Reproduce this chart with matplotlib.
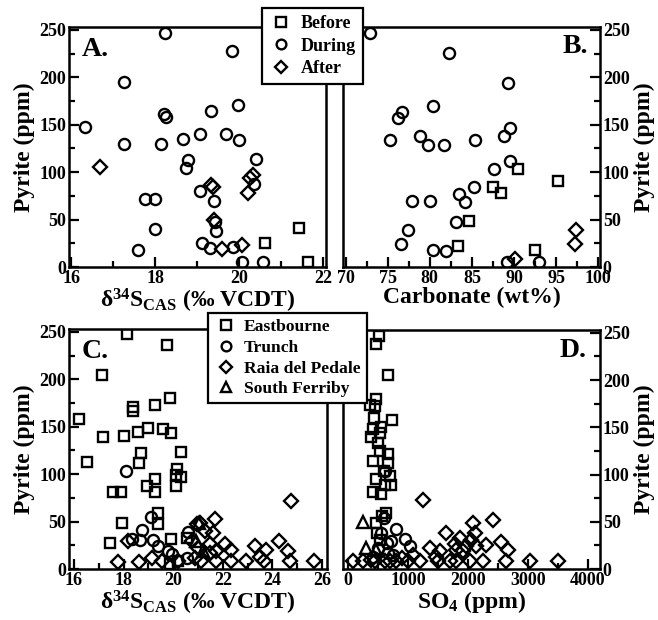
import matplotlib
matplotlib.use("Agg")
import matplotlib.pyplot as plt
from matplotlib.lines import Line2D
from matplotlib.ticker import MultipleLocator

# Panel A: d34S (CAS) vs pyrite, by interval
a_before_x = [20.61, 21.42, 21.64]
a_before_y = [25, 41, 5]
a_during_x = [16.32, 17.25, 17.26, 18.24, 18.13, 18.21, 18.25, 18.66, 18.79, 18.74,
              19.08, 19.34, 19.68, 19.84, 19.97, 20.0, 20.40, 20.35, 19.08, 19.41,
              17.76, 18.0, 18.0, 17.6, 19.11, 19.30, 19.45, 19.42, 19.86, 20.08, 20.58]
a_during_y = [148, 195, 130, 247, 130, 161, 158, 135, 113, 104,
              140, 164, 140, 228, 171, 134, 114, 88, 80, 70,
              72, 72, 40, 18, 25, 20, 38, 47, 21, 5, 5]
a_after_x = [16.70, 19.34, 19.38, 19.41, 19.6, 20.08, 20.27, 20.33, 20.21]
a_after_y = [105, 86, 84, 50, 19, 23, 94, 97, 78]

# Panel B: carbonate vs pyrite, by interval
b_before_x = [90.5, 87.5, 88.5, 84.6, 83.4, 95.2, 92.5]
b_before_y = [103, 84, 78, 49, 22, 91, 18]
b_during_x = [72.9, 82.3, 89.3, 80.4, 76.7, 76.2, 75.3, 78.8, 79.8, 81.7,
              85.4, 88.8, 89.5, 89.5, 87.6, 85.2, 83.5, 84.2, 77.9, 80.0,
              77.4, 76.6, 83.1, 80.4, 81.9, 89.2, 93.0]
b_during_y = [247, 226, 194, 170, 163, 157, 134, 138, 129, 129,
              134, 138, 147, 112, 103, 84, 77, 69, 70, 70,
              39, 24, 47, 18, 17, 5, 5]
b_after_x = [90.1, 97.4, 97.2]
b_after_y = [8, 39, 24]

# Panel C: d34S (CAS) vs pyrite, by section
c_east_x = [18.13, 19.77, 17.15, 16.22, 16.54, 17.16, 18.02, 18.37, 18.37, 18.59,
            18.99, 19.26, 19.57, 19.89, 19.93, 18.70, 18.63, 20.33, 20.17, 20.13,
            20.33, 20.13, 18.93, 19.26, 19.26, 17.59, 17.88, 17.92, 17.46, 19.37,
            19.40, 19.93, 20.54, 19.87, 20.2]
c_east_y = [248, 236, 204, 158, 113, 139, 140, 171, 167, 144,
            149, 173, 148, 180, 143, 122, 112, 123, 105, 99,
            97, 88, 88, 95, 81, 81, 81, 49, 27, 59,
            47, 32, 33, 5, 8]
c_trunch_x = [18.10, 19.10, 18.76, 18.66, 18.33, 19.20, 19.40, 20.60, 19.96, 20.54, 19.80]
c_trunch_y = [103, 55, 41, 31, 32, 31, 24, 39, 16, 12, 19]
c_raia_x = [17.79, 18.19, 18.62, 19.13, 19.53, 20.94, 20.74, 20.87, 20.2, 24.75,
            21.67, 21.6, 21.27, 21.07, 22.07, 22.34, 21.47, 21.74, 23.28, 23.75,
            24.28, 24.62, 24.69, 25.69, 23.48, 22.95, 22.34, 21.74, 21.14, 23.68,
            21.47, 21.0]
c_raia_y = [7, 29, 7, 12, 8, 47, 29, 12, 8, 72,
            53, 38, 40, 49, 26, 20, 26, 19, 24, 20,
            29, 19, 8, 8, 13, 8, 8, 8, 8, 8,
            17, 22]
c_ferriby_x = [21.05, 21.2, 20.9]
c_ferriby_y = [49, 19, 30]

# Panel D: SO4 vs pyrite, by section
d_east_x = [517, 461, 667, 472, 444, 361, 739, 556, 417, 389,
            528, 667, 528, 417, 667, 472, 722, 611, 417, 556,
            639, 572, 461, 483, 528, 694, 600, 500, 430]
d_east_y = [247, 238, 205, 180, 173, 174, 158, 150, 148, 140,
            144, 122, 125, 114, 112, 95, 89, 89, 82, 79,
            59, 56, 49, 38, 31, 98, 104, 133, 160]
d_trunch_x = [611, 594, 806, 722, 944, 1028, 556, 667, 500, 417, 750, 650]
d_trunch_y = [104, 54, 42, 30, 32, 24, 38, 17, 22, 13, 15, 28]
d_raia_x = [1250, 1639, 2083, 2417, 1861, 1806, 2139, 2306, 2556, 2667,
            2639, 3039, 3500, 2250, 2028, 1806, 1500, 1194, 1000, 806,
            1361, 1472, 83, 250, 444, 611, 1972, 2056, 2111, 1778,
            700, 900, 1694, 1917, 1083, 389, 1528]
d_raia_y = [73, 38, 49, 52, 33, 20, 24, 25, 29, 20,
            8, 8, 8, 8, 8, 8, 8, 8, 8, 8,
            22, 13, 8, 8, 8, 8, 24, 31, 38, 26,
            8, 12, 8, 19, 15, 10, 19]
d_ferriby_x = [250, 294, 472]
d_ferriby_y = [50, 22, 20]

plt.rcParams["font.family"] = "Liberation Serif"
plt.rcParams["font.weight"] = "bold"
plt.rcParams["axes.labelweight"] = "bold"
plt.rcParams["mathtext.fontset"] = "custom"
plt.rcParams["mathtext.rm"] = "Liberation Serif:bold"
plt.rcParams["mathtext.it"] = "Liberation Serif:bold"
plt.rcParams["mathtext.bf"] = "Liberation Serif:bold"
plt.rcParams["mathtext.default"] = "rm"

W, H = 658, 620
fig = plt.figure(figsize=(W / 100, H / 100), dpi=100)
axA = fig.add_axes([69 / W, 1 - 267 / H, 257 / W, 240 / H])
axB = fig.add_axes([343 / W, 1 - 267 / H, 257 / W, 240 / H])
axC = fig.add_axes([69 / W, 1 - 569 / H, 258 / W, 240 / H])
axD = fig.add_axes([343 / W, 1 - 569 / H, 257 / W, 239 / H])

mk = dict(linestyle="none", mfc="none", mec="black", mew=1.7)
sq = dict(marker="s", ms=7.5, **mk)
ci = dict(marker="o", ms=8, **mk)
di = dict(marker="D", ms=7.5, **mk)
tr = dict(marker="^", ms=8, **mk)

axA.plot(a_before_x, a_before_y, **sq)
axA.plot(a_during_x, a_during_y, **ci)
axA.plot(a_after_x, a_after_y, **di)

axB.plot(b_before_x, b_before_y, **sq)
axB.plot(b_during_x, b_during_y, **ci)
axB.plot(b_after_x, b_after_y, **di)

axC.plot(c_east_x, c_east_y, **sq)
axC.plot(c_trunch_x, c_trunch_y, **ci)
axC.plot(c_raia_x, c_raia_y, **di)
axC.plot(c_ferriby_x, c_ferriby_y, **tr)

axD.plot(d_east_x, d_east_y, **sq)
axD.plot(d_trunch_x, d_trunch_y, **ci)
axD.plot(d_raia_x, d_raia_y, **di)
axD.plot(d_ferriby_x, d_ferriby_y, **tr)

axA.set_xlim(15.95, 22.07)
axB.set_xlim(69.7, 100.2)
axC.set_xlim(15.8, 26.2)
axD.set_xlim(-85, 4200)

axA.xaxis.set_major_locator(MultipleLocator(2))
axA.xaxis.set_minor_locator(MultipleLocator(1))
axB.xaxis.set_major_locator(MultipleLocator(5))
axB.xaxis.set_minor_locator(MultipleLocator(2.5))
axC.xaxis.set_major_locator(MultipleLocator(2))
axC.xaxis.set_minor_locator(MultipleLocator(1))
axD.xaxis.set_major_locator(MultipleLocator(1000))
axD.xaxis.set_minor_locator(MultipleLocator(500))

d34 = "δ$^{34}$S$_{\\mathrm{CAS}}$ (‰ VCDT)"
for ax in [axA, axB, axC, axD]:
    ax.set_ylim(0, 253)
    ax.yaxis.set_major_locator(MultipleLocator(50))
    ax.yaxis.set_minor_locator(MultipleLocator(25))
    for s in ax.spines.values():
        s.set_linewidth(1.8)
    ax.tick_params(which="both", direction="in", width=1.6, labelsize=13, pad=2)
    ax.tick_params(which="major", length=7)
    ax.tick_params(which="minor", length=4)
    ax.set_ylabel("Pyrite (ppm)", fontsize=17, labelpad=3)

for ax in [axB, axD]:
    ax.yaxis.tick_right()
    ax.yaxis.set_label_position("right")

axA.set_xlabel(d34, fontsize=17, labelpad=0)
axB.set_xlabel("Carbonate (wt%)", fontsize=17, labelpad=0)
axC.set_xlabel(d34, fontsize=17, labelpad=0)
axD.set_xlabel("SO$_4$ (ppm)", fontsize=17, labelpad=0)

axA.text(0.05, 0.88, "A.", transform=axA.transAxes, fontsize=20, fontweight="bold")
axB.text(0.953, 0.89, "B.", transform=axB.transAxes, fontsize=20, fontweight="bold", ha="right")
axC.text(0.05, 0.878, "C.", transform=axC.transAxes, fontsize=20, fontweight="bold")
axD.text(0.948, 0.889, "D.", transform=axD.transAxes, fontsize=20, fontweight="bold", ha="right")

# legends sit across both panels, so put them on the figure
lg = dict(linestyle="none", mfc="none", mec="black", mew=1.7)
h1 = [Line2D([], [], marker="s", ms=6.5, **lg),
      Line2D([], [], marker="o", ms=7, **lg),
      Line2D([], [], marker="D", ms=6.5, **lg)]
leg1 = fig.legend(h1, ["Before", "During", "After"], loc="upper left",
                  bbox_to_anchor=(262 / W, 1 - 8 / H), fontsize=13,
                  handlelength=1.3, handletextpad=0.45, labelspacing=0.3,
                  borderpad=0.4, borderaxespad=0, fancybox=False,
                  framealpha=1, edgecolor="black")
leg1.get_frame().set_linewidth(1.6)

h2 = [Line2D([], [], marker="s", ms=6.5, **lg),
      Line2D([], [], marker="o", ms=7, **lg),
      Line2D([], [], marker="D", ms=6.5, **lg),
      Line2D([], [], marker="^", ms=7, **lg)]
leg2 = fig.legend(h2, ["Eastbourne", "Trunch", "Raia del Pedale", "South Ferriby"],
                  loc="upper left", bbox_to_anchor=(208 / W, 1 - 313 / H), fontsize=12.6,
                  handlelength=1.3, handletextpad=0.4, labelspacing=0.25,
                  borderpad=0.35, borderaxespad=0, fancybox=False,
                  framealpha=1, edgecolor="black")
leg2.get_frame().set_linewidth(1.6)

fig.savefig("out.png", dpi=100)
